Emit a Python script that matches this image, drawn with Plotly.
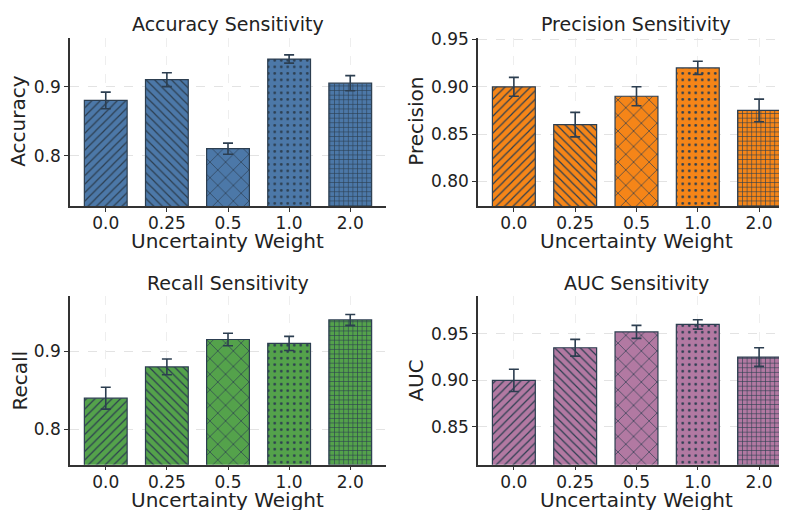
import plotly.graph_objects as go

# ---- data ----
categories = ["0.0", "0.25", "0.5", "1.0", "2.0"]
accuracy = [0.880, 0.910, 0.810, 0.940, 0.905]
accuracy_err = [0.012, 0.010, 0.008, 0.006, 0.011]
precision = [0.900, 0.860, 0.890, 0.920, 0.875]
precision_err = [0.010, 0.013, 0.010, 0.007, 0.012]
recall = [0.840, 0.880, 0.915, 0.910, 0.940]
recall_err = [0.014, 0.010, 0.008, 0.009, 0.007]
auc = [0.900, 0.935, 0.952, 0.960, 0.925]
auc_err = [0.012, 0.009, 0.007, 0.005, 0.010]

titles = ["Accuracy Sensitivity", "Precision Sensitivity", "Recall Sensitivity", "AUC Sensitivity"]
ylabels = ["Accuracy", "Precision", "Recall", "AUC"]
xlabel = "Uncertainty Weight"

# ---- style ----
colors = ["#4C78A8", "#F58518", "#54A24B", "#B279A2"]
edge = "#2C3E50"
shapes = ["/", "\\", "x", ".", "+"]
sizes = [6, 6, 11, 6.5, 4.6]
solid = [0.2, 0.2, 0.12, 0.14, 0.24]
DX, DY = 8, 14           # page offset of the plot div
W, H = 787 - DX, 516 - DY
FONT = "DejaVu Sans"

panels = [
    dict(vals=accuracy, err=accuracy_err, x0=70, x1=386, y0=36, y1=207, xr=4.585,
         yr=[0.727, 0.971], tv=[0.8, 0.9], fmt=".1f", ylx=18, xly=243, ty=22),
    dict(vals=precision, err=precision_err, x0=478, x1=787, y0=36, y1=207, xr=4.455,
         yr=[0.774, 0.952], tv=[0.80, 0.85, 0.90, 0.95], fmt=".2f", ylx=416, xly=243, ty=22),
    dict(vals=recall, err=recall_err, x0=70, x1=386, y0=299, y1=470, xr=4.585,
         yr=[0.755, 0.970], tv=[0.8, 0.9], fmt=".1f", ylx=20, xly=506, ty=285),
    dict(vals=auc, err=auc_err, x0=478, x1=787, y0=299, y1=470, xr=4.455,
         yr=[0.8095, 0.990], tv=[0.85, 0.90, 0.95], fmt=".2f", ylx=416, xly=506, ty=285),
]


def px(x):
    return (x - DX) / W


def py(y):
    return 1 - (y - DY) / H


fig = go.Figure()
annotations = []
for i, p in enumerate(panels):
    k = "" if i == 0 else str(i + 1)
    fig.add_trace(go.Bar(
        x=categories, y=p["vals"], width=0.7,
        marker=dict(color=colors[i], line=dict(color=edge, width=1.2),
                    pattern=dict(shape=shapes, size=sizes, solidity=solid,
                                 fgcolor=edge, bgcolor=colors[i], fillmode="replace")),
        error_y=dict(type="data", array=p["err"], color=edge, thickness=1.6, width=5),
        xaxis="x" + k, yaxis="y" + k, showlegend=False,
    ))
    xd = [max(0, px(p["x0"])), min(1, px(p["x1"]))]
    yd = [py(p["y1"]), py(p["y0"])]
    fig.update_layout(**{
        "xaxis" + k: dict(domain=xd, anchor="y" + k, type="category",
                          range=[-0.585, p["xr"]], showline=True, linecolor="#333333",
                          linewidth=1.5, ticks="outside", ticklen=4, tickcolor="#333333",
                          ticklabelstandoff=-3,
                          showgrid=True, gridcolor="#EEEEEE", griddash="dash", gridwidth=0.8,
                          tickfont=dict(size=17, color="#222222", family=FONT), zeroline=False),
        "yaxis" + k: dict(domain=yd, anchor="x" + k, range=p["yr"], tickvals=p["tv"],
                          tickformat=p["fmt"], showline=True, linecolor="#333333", linewidth=1.5,
                          ticks="outside", ticklen=4, tickcolor="#333333",
                          showgrid=True, gridcolor="#E3E3E3", griddash="dash", gridwidth=0.8,
                          tickfont=dict(size=17, color="#222222", family=FONT), zeroline=False),
    })
    full_right = p["x0"] + (4.585 + 0.585) * (p["x1"] - p["x0"]) / (p["xr"] + 0.585)
    cx = (p["x0"] + full_right) / 2
    annotations.append(dict(text=titles[i], x=px(cx), y=py(p["ty"]), xref="paper", yref="paper",
                            xanchor="center", yanchor="middle", showarrow=False,
                            font=dict(size=19, color="#222222", family=FONT)))
    annotations.append(dict(text=ylabels[i], x=px(p["ylx"]), y=py((p["y0"] + p["y1"]) / 2),
                            xref="paper", yref="paper", xanchor="center", yanchor="middle",
                            textangle=-90, showarrow=False,
                            font=dict(size=20, color="#222222", family=FONT)))
    annotations.append(dict(text=xlabel, x=px(cx), y=py(p["xly"]), xref="paper", yref="paper",
                            xanchor="center", yanchor="middle", showarrow=False,
                            font=dict(size=20, color="#222222", family=FONT)))

fig.update_layout(width=W, height=H, margin=dict(l=0, r=0, t=0, b=0),
                  paper_bgcolor="white", plot_bgcolor="white",
                  annotations=annotations, font=dict(family=FONT))
fig.write_html("out.html")
